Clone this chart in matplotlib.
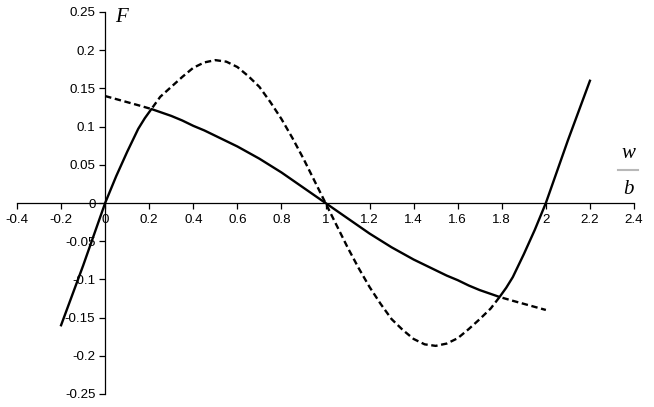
import matplotlib
matplotlib.use("Agg")
import matplotlib.pyplot as plt
from matplotlib.lines import Line2D

plt.rcParams['font.family'] = ['Liberation Sans', 'DejaVu Sans']
plt.rcParams['lines.scale_dashes'] = False

# Solid curve
solid_x = [-0.2, -0.15, -0.1, -0.05, 0.0, 0.05, 0.1, 0.15, 0.18, 0.21, 0.25, 0.3, 0.35,
           0.4, 0.45, 0.5, 0.55, 0.6, 0.65, 0.7, 0.75, 0.8, 0.85, 0.9, 0.95, 1.0,
           1.05, 1.1, 1.15, 1.2, 1.25, 1.3, 1.35, 1.4, 1.45, 1.5, 1.55, 1.6, 1.65,
           1.7, 1.75, 1.79, 1.82, 1.85, 1.9, 1.95, 2.0, 2.05, 2.1, 2.15, 2.2]
solid_y = [-0.160, -0.121, -0.082, -0.041, 0.0, 0.035, 0.067, 0.097, 0.111, 0.123,
           0.119, 0.114, 0.108, 0.101, 0.095, 0.088, 0.081, 0.074, 0.066, 0.058,
           0.049, 0.040, 0.030, 0.020, 0.010, 0.0, -0.010, -0.020, -0.030, -0.040,
           -0.049, -0.058, -0.066, -0.074, -0.081, -0.088, -0.095, -0.101, -0.108,
           -0.114, -0.119, -0.123, -0.111, -0.097, -0.067, -0.035, 0.0, 0.041,
           0.082, 0.121, 0.160]

# Dashed curve
dash_x = [0.0, 0.05, 0.1, 0.15, 0.21, 0.25, 0.3, 0.35, 0.4, 0.45, 0.5, 0.55, 0.6, 0.65,
          0.7, 0.75, 0.8, 0.85, 0.9, 0.95, 1.0, 1.05, 1.1, 1.15, 1.2, 1.25, 1.3, 1.35,
          1.4, 1.45, 1.5, 1.55, 1.6, 1.65, 1.7, 1.75, 1.79, 1.85, 1.9, 1.95, 2.0]
dash_y = [0.140, 0.136, 0.132, 0.128, 0.123, 0.139, 0.152, 0.165, 0.177, 0.184, 0.187,
          0.185, 0.178, 0.166, 0.152, 0.132, 0.110, 0.085, 0.058, 0.029, 0.0, -0.029,
          -0.058, -0.085, -0.110, -0.132, -0.152, -0.166, -0.178, -0.185, -0.187,
          -0.184, -0.177, -0.165, -0.152, -0.138, -0.123, -0.128, -0.132, -0.136,
          -0.140]

x_ticks = [-0.4, -0.2, 0.0, 0.2, 0.4, 0.6, 0.8, 1.0, 1.2, 1.4, 1.6, 1.8, 2.0, 2.2, 2.4]
x_tick_labels = ['-0.4', '-0.2', '0', '0.2', '0.4', '0.6', '0.8', '1', '1.2', '1.4',
                 '1.6', '1.8', '2', '2.2', '2.4']
y_ticks = [-0.25, -0.2, -0.15, -0.1, -0.05, 0.0, 0.05, 0.1, 0.15, 0.2, 0.25]
y_tick_labels = ['-0.25', '-0.2', '-0.15', '-0.1', '-0.05', '0', '0.05', '0.1',
                 '0.15', '0.2', '0.25']

W, H = 654, 407
fig = plt.figure(figsize=(W / 100, H / 100), dpi=100)
fig.patch.set_facecolor('white')
x0_px, x1_px = 17, 634
ytop_px, ybot_px = 12, 394
ax = fig.add_axes([x0_px / W, (H - ybot_px) / H, (x1_px - x0_px) / W, (ybot_px - ytop_px) / H])
ax.set_xlim(-0.4, 2.4)
ax.set_ylim(-0.25, 0.25)

ax.plot(solid_x, solid_y, color='black', lw=1.7, solid_joinstyle='round')
ax.plot(dash_x, dash_y, color='black', lw=1.7, dashes=[4.6, 2.6])

for s in ['top', 'right']:
    ax.spines[s].set_visible(False)
ax.spines['left'].set_position(('data', 0))
ax.spines['bottom'].set_position(('data', 0))
ax.spines['left'].set_linewidth(0.9)
ax.spines['bottom'].set_linewidth(0.9)

ax.set_xticks(x_ticks)
ax.set_xticklabels(x_tick_labels)
ax.set_yticks(y_ticks)
ax.set_yticklabels(y_tick_labels)
ax.tick_params(axis='both', direction='out', length=4, width=0.9, labelsize=9.6,
               pad=3, colors='black')
ax.tick_params(axis='x', pad=4)
ax.patch.set_visible(False)

# Axis labels
fig.text(115 / W, 1 - 18 / H, 'F', family='Liberation Serif', style='italic',
         fontsize=15, ha='left', va='center')
fig.text(628 / W, 1 - 154 / H, 'w', family='Liberation Serif', style='italic',
         fontsize=15, ha='center', va='center')
fig.text(628 / W, 1 - 189 / H, 'b', family='Liberation Serif', style='italic',
         fontsize=15, ha='center', va='center')
fig.add_artist(Line2D([618 / W, 638 / W], [1 - 170 / H, 1 - 170 / H],
                      transform=fig.transFigure, color='#b8b8b8', lw=1.5))

fig.savefig('out.png', dpi=100, facecolor='white')
